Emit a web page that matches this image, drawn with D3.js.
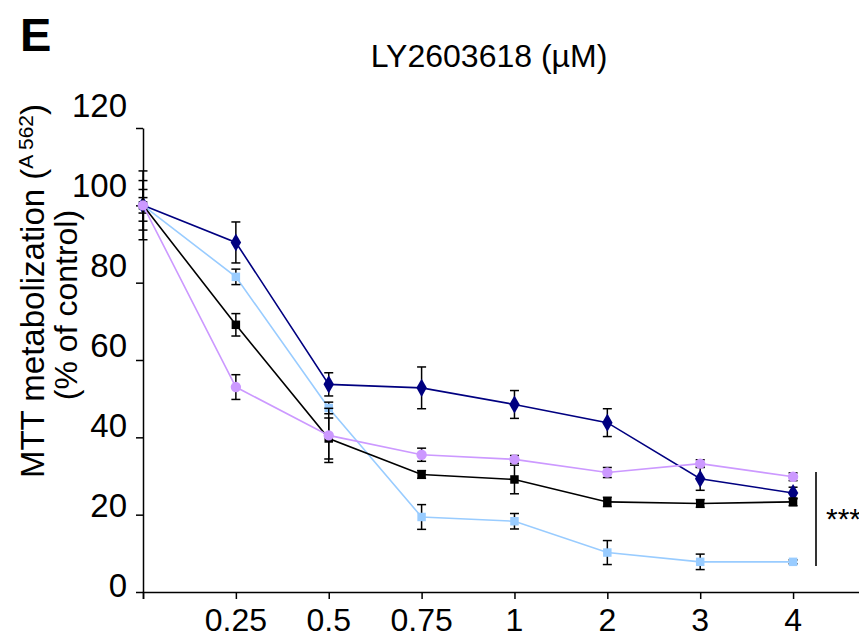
<!DOCTYPE html>
<html>
<head>
  <meta charset="UTF-8">
  <style>
    body { margin: 0; background: #fff; }
    svg { display: block; font-family: "Liberation Sans", Arial, Helvetica, sans-serif; }
  </style>
  <title>LY2603618 MTT</title>
</head>
<body>
<svg></svg>
<script src="https://d3js.org/d3.v7.min.js"></script>
<script>

// concentrations (first one is the untreated control)
let doses = ["0", "0.25", "0.5", "0.75", "1", "2", "3", "4"];

// mean values, % of control
let navyVals   = [100, 90.4, 53.7, 52.8, 48.5, 43.8, 29.3, 25.6];
let lightVals  = [100, 81.5, 47.6, 19.4, 18.3, 10.2, 7.8, 7.8];
let blackVals  = [100, 69.1, 39.7, 30.4, 29.1, 23.3, 22.9, 23.3];
let purpleVals = [100, 53.0, 40.5, 35.5, 34.3, 30.9, 33.2, 29.8];

// error bars (+/-)
let navyErr   = [4.1, 5.3, 3.0, 5.4, 3.6, 3.6, 3.0, 1.5];
let lightErr  = [2.0, 2.0, 1.5, 3.2, 2.0, 3.1, 2.0, 0.5];
let blackErr  = [6.4, 2.9, 5.3, 1.0, 3.7, 1.2, 1.0, 1.0];
let purpleErr = [8.9, 3.2, 7.0, 1.7, 1.0, 1.3, 1.0, 1.0];

let yTicks = [0, 20, 40, 60, 80, 100, 120];

let width = 859, height = 639;

let svg = d3.select("svg")
    .attr("width", width)
    .attr("height", height);

let x = d3.scaleLinear().domain([0, 7.85]).range([143, 872]);
let y = d3.scaleLinear().domain([0, 120]).range([592, 128]);
// tick labels sit on a slightly taller spacing than the ticks in the original
let yLab = d3.scaleLinear().domain([0, 120]).range([585, 105]);

let series = [
  {vals: navyVals,   err: navyErr,   color: "#000080", shape: "diamond"},
  {vals: lightVals,  err: lightErr,  color: "#99ccff", shape: "square"},
  {vals: blackVals,  err: blackErr,  color: "#000000", shape: "square"},
  {vals: purpleVals, err: purpleErr, color: "#cc99ff", shape: "circle"}
];

// panel letter + title
svg.append("text")
    .attr("x", 20).attr("y", 51)
    .attr("font-size", 47).attr("font-weight", "bold")
    .text("E");

svg.append("text")
    .attr("x", 489).attr("y", 67)
    .attr("text-anchor", "middle")
    .attr("font-size", 32)
    .text("LY2603618 (µM)");

// axes
let xAxis = svg.append("g")
    .attr("transform", "translate(0," + y(0) + ")")
    .call(d3.axisBottom(x).tickValues(d3.range(doses.length)).tickSize(7).tickFormat(""));
xAxis.select(".domain").attr("stroke-width", 1.5);
xAxis.selectAll(".tick line").attr("stroke-width", 1.5);

svg.append("g").selectAll("text")
    .data(doses.slice(1))
  .enter()
    .append("text")
    .attr("x", (d, i) => x(i + 1))
    .attr("y", 631)
    .attr("text-anchor", "middle")
    .attr("font-size", 32)
    .text(d => d);

let yAxis = svg.append("g")
    .attr("transform", "translate(" + x(0) + ",0)")
    .call(d3.axisLeft(y).tickValues(yTicks).tickSize(7).tickSizeOuter(0).tickFormat(""));
yAxis.select(".domain").attr("stroke-width", 1.5);
yAxis.selectAll(".tick line").attr("stroke-width", 1.5);

svg.append("g").selectAll("text")
    .data(yTicks)
  .enter()
    .append("text")
    .attr("x", 127)
    .attr("y", d => yLab(d))
    .attr("dy", "0.35em")
    .attr("text-anchor", "end")
    .attr("font-size", 33)
    .text(d => d);

// y label, two lines
let ylab = svg.append("text")
    .attr("transform", "translate(44,291) rotate(-90)")
    .attr("text-anchor", "middle")
    .attr("font-size", 33);
ylab.append("tspan").text("MTT metabolization (");
ylab.append("tspan").attr("font-size", 21).attr("dy", -11).text("A 562");
ylab.append("tspan").attr("dy", 11).text(")");

svg.append("text")
    .attr("transform", "translate(77,305) rotate(-90)")
    .attr("text-anchor", "middle")
    .attr("font-size", 32)
    .text("(% of control)");

let line = d3.line()
    .x((d, i) => x(i))
    .y(d => y(d));

series.forEach(s => {
    let g = svg.append("g");

    g.append("path")
        .attr("d", line(s.vals))
        .attr("fill", "none")
        .attr("stroke", s.color)
        .attr("stroke-width", 1.6);

    let eb = g.selectAll(".eb")
        .data(s.vals)
      .enter()
        .append("g");
    eb.append("line")
        .attr("x1", (d, i) => x(i)).attr("x2", (d, i) => x(i))
        .attr("y1", (d, i) => y(d + s.err[i])).attr("y2", (d, i) => y(d - s.err[i]))
        .attr("stroke", "#000").attr("stroke-width", 1.5);
    [1, -1].forEach(sign => {
        eb.append("line")
            .attr("x1", (d, i) => x(i) - 4.5).attr("x2", (d, i) => x(i) + 4.5)
            .attr("y1", (d, i) => y(d + sign * s.err[i])).attr("y2", (d, i) => y(d + sign * s.err[i]))
            .attr("stroke", "#000").attr("stroke-width", 1.5);
    });

    let sym = s.shape == "diamond" ? d3.symbolDiamond
            : s.shape == "square" ? d3.symbolSquare : d3.symbolCircle;
    let size = s.shape == "diamond" ? 95 : s.shape == "square" ? 72 : 85;
    g.selectAll(".pt")
        .data(s.vals)
      .enter()
        .append("path")
        .attr("d", d3.symbol().type(sym).size(size))
        .attr("transform", (d, i) => "translate(" + x(i) + "," + y(d) + ")")
        .attr("fill", s.color);
});

// significance bar
svg.append("line")
    .attr("x1", 816).attr("x2", 816)
    .attr("y1", 472).attr("y2", 566)
    .attr("stroke", "#000").attr("stroke-width", 1.6);
svg.append("text")
    .attr("x", 826).attr("y", 529)
    .attr("font-size", 30)
    .text("***");

</script>
</body>
</html>
